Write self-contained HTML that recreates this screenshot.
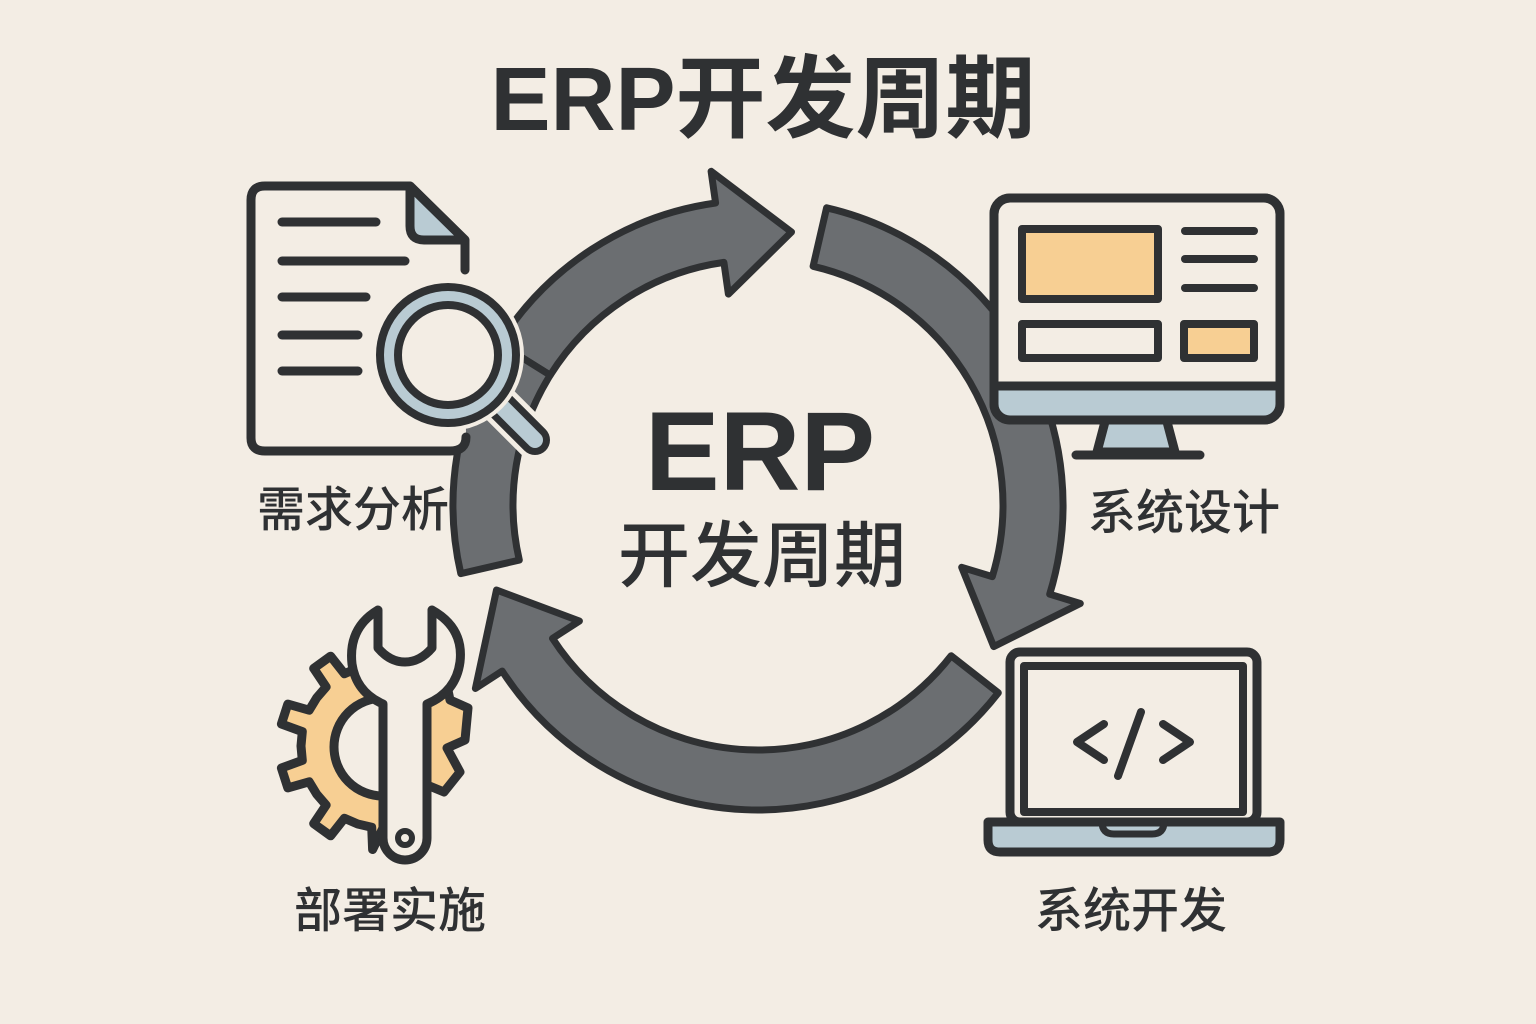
<!DOCTYPE html>
<html><head><meta charset="utf-8">
<style>
html,body{margin:0;padding:0;background:#f3ede4;}
svg{display:block}
text{font-family:"Liberation Sans","Noto Sans CJK SC",sans-serif;fill:#2f3133}
</style></head>
<body>
<svg id="s" width="1536" height="1024" viewBox="0 0 1536 1024" xmlns="http://www.w3.org/2000/svg">
<rect width="1536" height="1024" fill="#f3ede4"/>
<text x="763" y="130" font-size="90" font-weight="bold" text-anchor="middle">ERP开发周期</text>

<g id="arrows"></g>

<text x="760" y="490" font-size="112" font-weight="bold" text-anchor="middle">ERP</text>
<text x="762" y="581" font-size="72" font-weight="500" text-anchor="middle">开发周期</text>

<!-- document icon -->
<g stroke="#2f3133" stroke-width="9" stroke-linecap="round" stroke-linejoin="round" fill="none">
  <path d="M465 270 V240 L410 186 H265 Q251 186 251 200 V438 Q251 451 265 451 H450 Q466 451 466 437" fill="#f3ede4"/>
  <path d="M410 186 V226 Q410 240 424 240 H465 Z" fill="#b9cbd3"/>
  <line x1="282" y1="222" x2="376" y2="222"/>
  <line x1="282" y1="261" x2="405" y2="261"/>
  <line x1="282" y1="297" x2="366" y2="297"/>
  <line x1="282" y1="335" x2="358" y2="335"/>
  <line x1="282" y1="371" x2="358" y2="371"/>
</g>
<!-- magnifier -->
<g stroke="#2f3133" stroke-linejoin="round">
  <line x1="498" y1="403" x2="535" y2="440" stroke="#f3ede4" stroke-width="40" stroke-linecap="round"/>
  <line x1="498" y1="403" x2="535" y2="440" stroke="#2f3133" stroke-width="30" stroke-linecap="round"/>
  <line x1="498" y1="403" x2="535" y2="440" stroke="#b9cbd3" stroke-width="16" stroke-linecap="round"/>
  <circle cx="448" cy="355" r="76" fill="#f3ede4" stroke="none"/>
  <circle cx="448" cy="355" r="68" fill="#b9cbd3" stroke-width="8"/>
  <circle cx="448" cy="355" r="50" fill="#f3ede4" stroke-width="8"/>
</g>

<!-- monitor -->
<g stroke="#2f3133" stroke-width="9" stroke-linejoin="round" stroke-linecap="round">
  <path d="M1106 418 L1097 452 H1175 L1166 418 Z" fill="#b9cbd3"/>
  <line x1="1076" y1="455" x2="1200" y2="455"/>
  <rect x="994" y="198" width="286" height="222" rx="16" fill="#f3ede4"/>
  <path d="M998 386 H1276 V405 Q1276 416 1265 416 H1009 Q998 416 998 405 Z" fill="#b9cbd3" stroke="none"/>
  <line x1="996" y1="386" x2="1278" y2="386"/>
  <rect x="994" y="198" width="286" height="222" rx="16" fill="none"/>
  <rect x="1022" y="229" width="136" height="70" fill="#f7cf93" stroke-width="8"/>
  <line x1="1185" y1="231" x2="1254" y2="231" stroke-width="8"/>
  <line x1="1185" y1="259" x2="1254" y2="259" stroke-width="8"/>
  <line x1="1185" y1="288" x2="1254" y2="288" stroke-width="8"/>
  <rect x="1022" y="324" width="136" height="34" fill="#f3ede4" stroke-width="8"/>
  <rect x="1184" y="324" width="70" height="34" fill="#f7cf93" stroke-width="8"/>
</g>

<!-- laptop -->
<g stroke="#2f3133" stroke-width="9" stroke-linejoin="round" stroke-linecap="round">
  <rect x="1010" y="652" width="247" height="170" rx="10" fill="#f3ede4"/>
  <rect x="1024" y="666" width="219" height="146" fill="#f3ede4" stroke-width="8"/>
  <path d="M988 822 H1280 V840 Q1280 852 1268 852 H1000 Q988 852 988 840 Z" fill="#b9cbd3"/>
  <path d="M1102 822 Q1102 834 1114 834 H1152 Q1164 834 1164 822" fill="none" stroke-width="7"/>
  <polyline points="1104,724 1077,742 1104,760" fill="none" stroke-width="8"/>
  <polyline points="1163,724 1190,742 1163,760" fill="none" stroke-width="8"/>
  <line x1="1141" y1="712" x2="1118" y2="776" stroke-width="8"/>
</g>

<!-- gear + wrench -->
<g stroke="#2f3133" stroke-width="9" stroke-linejoin="round" stroke-linecap="round">
  <path id="gear" fill="#f7cf93"/>
  <path d="M383 698 A49 49 0 0 0 383 796" fill="#f3ede4"/>
  <path d="M378 610 Q348 628 352 664 Q356 692 383 704 V838 A22 22 0 0 0 427 838 V704 Q456 692 460 662 Q464 628 432 610 V648 Q420 662 405 662 Q390 662 378 648 Z" fill="#f3ede4"/>
  <circle cx="405" cy="838" r="7" fill="none" stroke-width="6"/>
</g>

<text x="257" y="526" font-size="48" font-weight="500">需求分析</text>
<text x="1088" y="529" font-size="48" font-weight="500">系统设计</text>
<text x="294" y="927" font-size="48" font-weight="500">部署实施</text>
<text x="1035" y="927" font-size="48" font-weight="500">系统开发</text>
</svg>
<script>
(function(){
var cx=758,cy=505,r1=245,r2=305,ns="http://www.w3.org/2000/svg";
function P(r,a){a=a*Math.PI/180;return (cx+r*Math.cos(a)).toFixed(1)+" "+(cy+r*Math.sin(a)).toFixed(1);}
function arrow(a0,a1,tipA,head){
  var d="M"+P(r2,a0)+" A"+r2+" "+r2+" 0 0 1 "+P(r2,a1);
  if(head){
    d+=" L"+P(r2+32,a1)+" L"+P((r1+r2)/2,tipA)+" L"+P(r1-32,a1)+" L"+P(r1,a1);
  }else{
    d+=" L"+P(r1,a1);
  }
  d+=" A"+r1+" "+r1+" 0 0 0 "+P(r1,a0)+" Z";
  var p=document.createElementNS(ns,"path");
  p.setAttribute("d",d);p.setAttribute("fill","#6b6e71");
  p.setAttribute("stroke","#2f3133");p.setAttribute("stroke-width","7");
  p.setAttribute("stroke-linejoin","round");
  document.getElementById("arrows").appendChild(p);
}
arrow(-148,-98,-83,true);
arrow(-77,17,31,true);
arrow(38,147,162,true);
arrow(167,212,0,false);
var gcx=383,gcy=746,ro=104,ri=82,n=10,teeth=[];
for(var i=0;i<n;i++){
  var b=90+i*360/n, w=360/n;
  [[b-w*0.5,ri],[b-w*0.22,ri],[b-w*0.16,ro],[b+w*0.16,ro],[b+w*0.22,ri]].forEach(function(q){teeth.push(q);});
}
var pts=teeth.filter(function(q){var a=((q[0]%360)+360)%360;return a>=90&&a<=270;});
pts.sort(function(x,y){return (((x[0]%360)+360)%360)-(((y[0]%360)+360)%360);});
var d="M"+gcx+" "+(gcy+ri);
pts.forEach(function(q){var a=q[0]*Math.PI/180;d+=" L"+(gcx+q[1]*Math.cos(a)).toFixed(1)+" "+(gcy+q[1]*Math.sin(a)).toFixed(1);});
d+=" L"+gcx+" "+(gcy-ri)+" Z";
d+=" M427 668 L445 676 L450 700 L468 708 L465 740 L447 748 L460 772 L444 792 L427 785 Z";
document.getElementById("gear").setAttribute("d",d);
})();
</script>
</body></html>
